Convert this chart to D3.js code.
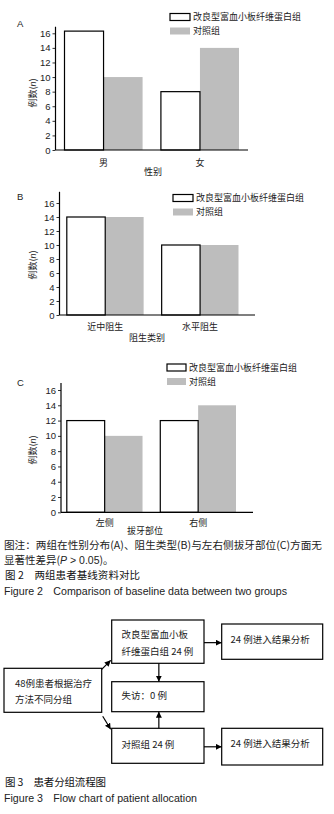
<!DOCTYPE html>
<html>
<head>
<meta charset="utf-8">
<script src="https://cdn.jsdelivr.net/npm/d3@7"></script>
<style>
  html, body { margin: 0; padding: 0; background: #fff; }
  svg { display: block; }
  text { fill: #222; }
</style>
</head>
<body>
<div id="app"></div>
<script>
'use strict'

// legend names
const groups = ['改良型富血小板纤维蛋白组', '对照组']

// panel A: sex
const sexCats = ['男', '女']
const sexTreat = [16.3, 8]
const sexCtrl = [10, 14]

// panel B: impaction type
const typeCats = ['近中阻生', '水平阻生']
const typeTreat = [14, 10]
const typeCtrl = [14, 10]

// panel C: extraction side
const sideCats = ['左侧', '右侧']
const sideTreat = [12, 12]
const sideCtrl = [10, 14]

const yTicks = [0, 2, 4, 6, 8, 10, 12, 14, 16]

// captions
const fig2Note1 = '图注：两组在性别分布(A)、阻生类型(B)与左右侧拔牙部位(C)方面无'
const fig2Title = '图 2　两组患者基线资料对比'
const fig2En = 'Figure 2　Comparison of baseline data between two groups'
const fig3Title = '图 3　患者分组流程图'
const fig3En = 'Figure 3　Flow chart of patient allocation'

// flow chart nodes
const flowNodes = [
  { id: 'treat', lines: ['改良型富血小板', '纤维蛋白组 24 例'] },
  { id: 'treatOut', lines: ['24 例进入结果分析'] },
  { id: 'all', lines: ['48例患者根据治疗', '方法不同分组'] },
  { id: 'lost', lines: ['失访：0 例'] },
  { id: 'ctrl', lines: ['对照组 24 例'] },
  { id: 'ctrlOut', lines: ['24 例进入结果分析'] }
]
const flowLinks = [
  ['treat', 'treatOut'], ['treat', 'lost'], ['ctrl', 'lost'],
  ['all', 'treat'], ['all', 'ctrl'], ['ctrl', 'ctrlOut']
]

const CJK = '"Noto Sans CJK SC", "Liberation Sans", sans-serif'
const LAT = '"Liberation Sans", Arial, sans-serif'
const GREY = '#bdbdbd'

const svg = d3.select('#app').append('svg')
  .attr('width', 334)
  .attr('height', 814)

/*
 * Layout of each panel (pixel frame only)
 */
const panels = [
  { key: 'A', cats: sexCats, treat: sexTreat, ctrl: sexCtrl, xTitle: '性别',
    ax: 55.5, axEnd: 248, y0: 150, y16: 33.3, yMax: 16.9, bars: [64.5, 239],
    catY: 163, titleX: 153, titleY: 171.5, labY: 24, yTitleY: 93,
    leg: { x: 170, y: 13.5, w: 20, x2: 193 } },
  { key: 'B', cats: typeCats, treat: typeTreat, ctrl: typeCtrl, xTitle: '阻生类别',
    ax: 59.5, axEnd: 255, y0: 315, y16: 203, yMax: 17.6, bars: [66.8, 238.5],
    catY: 327, titleX: 147, titleY: 337.5, labY: 196.5, yTitleY: 265,
    leg: { x: 173, y: 194.5, w: 20, x2: 196 } },
  { key: 'C', cats: sideCats, treat: sideTreat, ctrl: sideCtrl, xTitle: '拔牙部位',
    ax: 61, axEnd: 253, y0: 512.3, y16: 390, yMax: 16.9, bars: [66.8, 236],
    catY: 523, titleX: 145, titleY: 530.5, labY: 383, yTitleY: 450,
    leg: { x: 167, y: 364, w: 19, x2: 189 } }
]

panels.forEach(p => {
  const g = svg.append('g')
  const unit = (p.y0 - p.y16) / 16
  const y = d3.scaleLinear().domain([0, 16]).range([p.y0, p.y16])

  const x = d3.scaleBand().domain(p.cats).range(p.bars).paddingInner(0.19)
  const xs = d3.scaleBand().domain(['treat', 'ctrl']).range([0, x.bandwidth()])

  // bars
  const rows = p.cats.map((c, i) => ({ cat: c, treat: p.treat[i], ctrl: p.ctrl[i] }))
  const grp = g.selectAll('.grp').data(rows).enter().append('g')
    .attr('transform', d => `translate(${x(d.cat)},0)`)
  grp.append('rect')
    .attr('x', xs('ctrl'))
    .attr('y', d => y(d.ctrl))
    .attr('width', xs.bandwidth())
    .attr('height', d => p.y0 - y(d.ctrl))
    .attr('fill', GREY)
  grp.append('rect')
    .attr('x', xs('treat'))
    .attr('y', d => y(d.treat))
    .attr('width', xs.bandwidth())
    .attr('height', d => p.y0 - y(d.treat))
    .attr('fill', '#fff')
    .attr('stroke', '#000')
    .attr('stroke-width', 1.2)

  // y axis
  const yAxis = g.append('g')
    .attr('transform', `translate(${p.ax},0)`)
    .call(d3.axisLeft(y).tickValues(yTicks).tickSize(3).tickSizeOuter(0))
  yAxis.select('.domain').remove()
  yAxis.append('line')
    .attr('x1', 0).attr('x2', 0)
    .attr('y1', p.y0 - p.yMax * unit).attr('y2', p.y0)
    .attr('stroke', '#000').attr('stroke-width', 1.2)
  yAxis.selectAll('.tick line').attr('stroke', '#333')
  yAxis.selectAll('.tick text')
    .attr('x', -5)
    .style('font-family', LAT).style('font-size', '9.5px').style('fill', '#222')

  // x axis line
  g.append('line')
    .attr('x1', p.ax).attr('x2', p.axEnd)
    .attr('y1', p.y0).attr('y2', p.y0)
    .attr('stroke', '#000').attr('stroke-width', 1.2)

  // category labels
  g.selectAll('.cat').data(p.cats).enter().append('text')
    .attr('x', d => x(d) + x.bandwidth() / 2)
    .attr('y', p.catY).attr('dy', '0.35em')
    .attr('text-anchor', 'middle')
    .style('font-family', CJK).style('font-size', '9px')
    .text(d => d)

  g.append('text')
    .attr('x', p.titleX).attr('y', p.titleY).attr('dy', '0.35em')
    .attr('text-anchor', 'middle')
    .style('font-family', CJK).style('font-size', '9px')
    .text(p.xTitle)

  // y title
  const yt = g.append('text')
    .attr('transform', `translate(33,${p.yTitleY}) rotate(-90)`)
    .attr('text-anchor', 'middle').attr('dy', '0.35em')
    .style('font-family', CJK).style('font-size', '9px')
  yt.append('tspan').text('例数(')
  yt.append('tspan').style('font-style', 'italic').style('font-family', LAT).text('n')
  yt.append('tspan').text(')')

  // panel letter
  g.append('text')
    .attr('x', 17).attr('y', p.labY).attr('dy', '0.35em')
    .style('font-family', LAT).style('font-size', '9.5px')
    .text(p.key)

  // legend
  const L = p.leg
  const legend = g.selectAll('.leg').data(groups).enter().append('g')
    .attr('transform', (d, i) => `translate(0,${L.y + i * 14})`)
  legend.append('rect')
    .attr('x', L.x).attr('y', 0)
    .attr('width', L.w).attr('height', 7)
    .attr('fill', (d, i) => i === 0 ? '#fff' : GREY)
    .attr('stroke', (d, i) => i === 0 ? '#000' : 'none')
    .attr('stroke-width', 1.2)
  legend.append('text')
    .attr('x', L.x2).attr('y', 3.5).attr('dy', '0.35em')
    .style('font-family', CJK).style('font-size', '9px')
    .text(d => d)
})

/*
 * Figure 2 caption
 */
const cap = svg.append('g')
cap.append('text')
  .attr('x', 4).attr('y', 545).attr('dy', '0.35em')
  .attr('textLength', 318).attr('lengthAdjust', 'spacingAndGlyphs')
  .style('font-family', CJK).style('font-size', '10.5px')
  .text(fig2Note1)
const l2 = cap.append('text')
  .attr('x', 4).attr('y', 560).attr('dy', '0.35em')
  .style('font-family', CJK).style('font-size', '10.5px')
l2.append('tspan').text('显著性差异(')
l2.append('tspan').style('font-style', 'italic').style('font-family', LAT).text('P')
l2.append('tspan').style('font-family', LAT).text(' > 0.05')
l2.append('tspan').text(')。')
cap.append('text')
  .attr('x', 5).attr('y', 575).attr('dy', '0.35em')
  .attr('textLength', 135).attr('lengthAdjust', 'spacing')
  .style('font-family', CJK).style('font-size', '10.5px').style('fill', '#111')
  .text(fig2Title)
cap.append('text')
  .attr('x', 4).attr('y', 591).attr('dy', '0.35em')
  .attr('textLength', 283).attr('lengthAdjust', 'spacingAndGlyphs')
  .style('font-family', LAT).style('font-size', '10.3px')
  .text(fig2En)

/*
 * Figure 3 flow chart
 */
const boxes = {
  treat: { x: 111.7, y: 620, w: 92.3, h: 43.3, tx: 121.5, ty: [635, 651.5] },
  treatOut: { x: 221.7, y: 624, w: 101, h: 35.3, tx: 230.5, ty: [639.5] },
  all: { x: 4, y: 668.3, w: 97.7, h: 44, tx: 15, ty: [684, 700] },
  lost: { x: 111.7, y: 681.7, w: 92.3, h: 30, tx: 121.5, ty: [696] },
  ctrl: { x: 111.7, y: 728.3, w: 92.3, h: 35, tx: 121.5, ty: [745] },
  ctrlOut: { x: 221.7, y: 728.3, w: 101, h: 36.7, tx: 230.5, ty: [744] }
}

const defs = svg.append('defs')
defs.append('marker')
  .attr('id', 'arrow')
  .attr('viewBox', '0 0 10 10')
  .attr('refX', 10).attr('refY', 5)
  .attr('markerWidth', 6).attr('markerHeight', 6)
  .attr('markerUnits', 'userSpaceOnUse')
  .attr('orient', 'auto')
  .append('path').attr('d', 'M0,0L10,5L0,10Z').attr('fill', '#000')

const flow = svg.append('g')
const nodes = flow.selectAll('.node').data(flowNodes).enter().append('g')
nodes.append('rect')
  .attr('x', d => boxes[d.id].x).attr('y', d => boxes[d.id].y)
  .attr('width', d => boxes[d.id].w).attr('height', d => boxes[d.id].h)
  .attr('fill', '#fff').attr('stroke', '#000').attr('stroke-width', 1.2)
nodes.each(function (d) {
  const b = boxes[d.id]
  d3.select(this).selectAll('text').data(d.lines).enter().append('text')
    .attr('x', b.tx).attr('y', (t, i) => b.ty[i]).attr('dy', '0.35em')
    .style('font-family', CJK).style('font-size', '9.5px')
    .text(t => t)
})

// connector endpoints
function endpoints (a, b) {
  const A = boxes[a]
  const B = boxes[b]
  if (a === 'all' && b === 'treat') return [A.x + A.w, A.y + 1, B.x - 1, B.y + B.h - 3]
  if (a === 'all' && b === 'ctrl') return [A.x + A.w + 1, A.y + A.h + 4, B.x - 1, B.y + 1]
  if (B.x > A.x + A.w) {
    const yy = A.y + A.h / 2 + 1
    return [A.x + A.w, yy, B.x, yy]
  }
  const cx = A.x + A.w / 2 + 1
  if (B.y > A.y) return [cx, A.y + A.h, cx, B.y]
  return [cx, A.y, cx, B.y + B.h]
}

flow.selectAll('.link').data(flowLinks).enter().append('line')
  .each(function (d) {
    const e = endpoints(d[0], d[1])
    d3.select(this).attr('x1', e[0]).attr('y1', e[1]).attr('x2', e[2]).attr('y2', e[3])
  })
  .attr('stroke', '#000').attr('stroke-width', 1.2)
  .attr('marker-end', 'url(#arrow)')

svg.append('text')
  .attr('x', 5).attr('y', 782.7).attr('dy', '0.35em')
  .attr('textLength', 101).attr('lengthAdjust', 'spacing')
  .style('font-family', CJK).style('font-size', '10.5px').style('fill', '#111')
  .text(fig3Title)
svg.append('text')
  .attr('x', 4).attr('y', 798.3).attr('dy', '0.35em')
  .attr('textLength', 193).attr('lengthAdjust', 'spacingAndGlyphs')
  .style('font-family', LAT).style('font-size', '10.3px')
  .text(fig3En)
</script>
</body>
</html>
